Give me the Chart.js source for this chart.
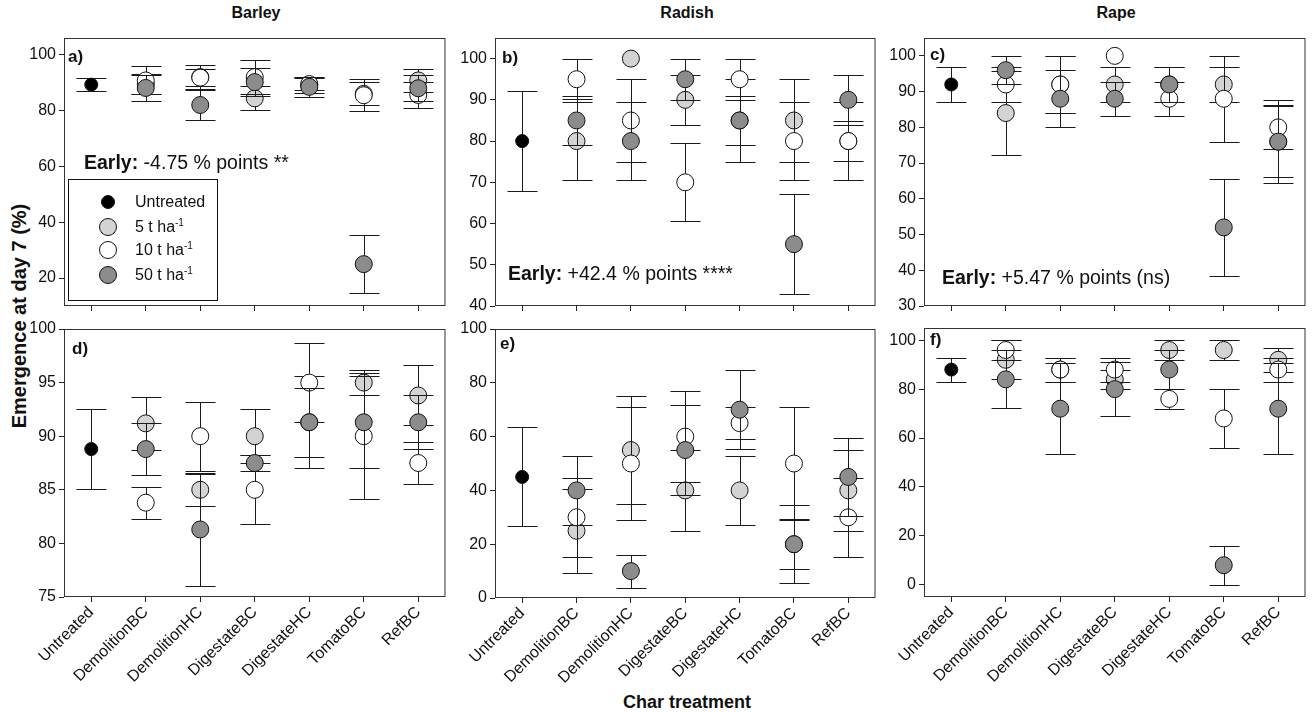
<!DOCTYPE html>
<html>
<head>
<meta charset="utf-8">
<script src="https://cdn.jsdelivr.net/npm/chart.js@4.4.1/dist/chart.umd.min.js"></script>
<style>
  body { margin: 0; width: 1312px; height: 712px; background: #fff; position: relative; overflow: hidden;
         font-family: 'Liberation Sans', Arial, sans-serif; color: #111; }
  canvas { position: absolute; }
  .txt { position: absolute; white-space: nowrap; line-height: 1; }
  .title { font-weight: bold; font-size: 16px; transform: translateX(-50%); top: 5px; }
  .letter { font-weight: bold; font-size: 17px; }
  .note { font-size: 19.5px; }
  .legend { position: absolute; border: 1px solid #111; background: #fff; box-sizing: border-box; }
  .legend .row { position: absolute; left: 0; height: 24px; display: flex; align-items: center; font-size: 16px; }
  .legend .dot { position: absolute; border-radius: 50%; border: 1px solid #111; box-sizing: border-box; }
  .legend .lab { position: absolute; left: 66px; }
  sup { font-size: 10px; vertical-align: 6px; line-height: 0; }
</style>
</head>
<body>

<div class="txt title" style="left:256px;">Barley</div>
<div class="txt title" style="left:687px;">Radish</div>
<div class="txt title" style="left:1116px;">Rape</div>

<div class="txt" style="left:19px;top:316px;font-weight:bold;font-size:20px;transform:translate(-50%,-50%) rotate(-90deg);">Emergence at day 7 (%)</div>
<div class="txt" style="left:687px;top:702px;font-weight:bold;font-size:18px;transform:translate(-50%,-50%);">Char treatment</div>

<script>
const treatments = ['Untreated', 'DemolitionBC', 'DemolitionHC', 'DigestateBC', 'DigestateHC', 'TomatoBC', 'RefBC'];

// untreated control, panels a-f
const untreatedMean = [89.3, 80, 92, 88.8, 45, 88];
const untreatedErr = [2.3, 12.2, 4.9, 3.7, 18.4, 4.9];

// a) barley, early
const barleyEarly5 = [null, 89.5, 92, 84.4, 89.2, 86, 90.8];
const barleyEarly5Err = [null, 3.5, 4.3, 4.3, 2.9, 4.1, 4.1];
const barleyEarly10 = [null, 90.8, 91.8, 92, 89.5, 85.5, 85.6];
const barleyEarly10Err = [null, 5, 3.1, 6, 2, 5.8, 4.8];
const barleyEarly50 = [null, 88.1, 82, 90.2, 88.5, 25, 88];
const barleyEarly50Err = [null, 4.8, 5.5, 5, 3.7, 10.3, 4.7];

// b) radish, early
const radishEarly5 = [null, 80, 100, 90, 85, 85, 80];
const radishEarly5Err = [null, 9.5, 0, 6.1, 10, 10, 4.9];
const radishEarly10 = [null, 95, 85, 70, 95, 80, 80];
const radishEarly10Err = [null, 4.9, 10, 9.5, 5, 9.4, 9.4];
const radishEarly50 = [null, 85, 80, 95, 85, 55, 90];
const radishEarly50Err = [null, 5.9, 9.4, 5, 6, 12.2, 6.1];

// c) rape, early
const rapeEarly5 = [null, 84, 92, 92, 92, 92, 76];
const rapeEarly5Err = [null, 11.7, 8, 4.9, 4.9, 4.9, 11.6];
const rapeEarly10 = [null, 92, 92, 100, 88, 88, 80];
const rapeEarly10Err = [null, 4.9, 8, 0, 4.8, 12, 6.2];
const rapeEarly50 = [null, 96, 88, 88, 92, 52, 76];
const rapeEarly50Err = [null, 4, 8, 4.8, 4.9, 13.6, 10];

// d) barley, late
const barleyLate5 = [null, 91.2, 85, 90, 91.3, 95, 93.8];
const barleyLate5Err = [null, 2.5, 1.5, 2.5, 4.3, 1.2, 2.8];
const barleyLate10 = [null, 83.8, 90, 85, 95, 90, 87.5];
const barleyLate10Err = [null, 1.5, 3.2, 3.2, 3.7, 5.9, 2];
const barleyLate50 = [null, 88.8, 81.3, 87.5, 91.3, 91.3, 91.3];
const barleyLate50Err = [null, 2.4, 5.3, 0.7, 3.2, 4.3, 2.5];

// e) radish, late
const radishLate5 = [null, 25, 55, 40, 40, 20, 40];
const radishLate5Err = [null, 15.6, 20, 15, 12.8, 14.6, 15];
const radishLate10 = [null, 30, 50, 60, 65, 50, 30];
const radishLate10Err = [null, 14.6, 20.9, 17, 6, 21, 14.6];
const radishLate50 = [null, 40, 10, 55, 70, 20, 45];
const radishLate50Err = [null, 12.8, 6.1, 16.7, 14.6, 9.3, 14.6];

// f) rape, late
const rapeLate5 = [null, 92, 88, 84, 96, 96, 92];
const rapeLate5Err = [null, 8, 4.9, 4, 4, 4, 4.9];
const rapeLate10 = [null, 96, 88, 88, 76, 68, 88];
const rapeLate10Err = [null, 4, 4.9, 4.9, 4, 12, 4.9];
const rapeLate50 = [null, 84, 72, 80, 88, 8, 72];
const rapeLate50Err = [null, 11.8, 18.7, 11, 8, 8, 18.7];

// y ranges and tick labels
const yRangeA = [10, 106], yTicksA = [20, 40, 60, 80, 100];
const yRangeB = [40, 105], yTicksB = [40, 50, 60, 70, 80, 90, 100];
const yRangeC = [30, 105], yTicksC = [30, 40, 50, 60, 70, 80, 90, 100];
const yRangeD = [75, 100], yTicksD = [75, 80, 85, 90, 95, 100];
const yRangeE = [0, 100], yTicksE = [0, 20, 40, 60, 80, 100];
const yRangeF = [-5, 105], yTicksF = [0, 20, 40, 60, 80, 100];

const notes = [
    { text: '-4.75 % points **', left: 84, top: 153 },
    { text: '+42.4 % points ****', left: 508, top: 263.5 },
    { text: '+5.47 % points (ns)', left: 942, top: 267.5 },
];

const LIGHT = '#d3d3d3';
const DARK = '#8c8c8c';
const YW = 46, PT = 12, PR = 6;

Chart.defaults.font.family = "'Liberation Sans', Arial, sans-serif";
Chart.defaults.font.size = 16;
Chart.defaults.color = '#111';

const errorBars = {
    id: 'errorBars',
    beforeDatasetDraw(chart, args) {
        const ds = chart.data.datasets[args.index];
        if (!ds.errors) return;
        const y = chart.scales.y;
        const ctx = chart.ctx;
        ctx.save();
        ctx.strokeStyle = '#1a1a1a';
        ctx.lineWidth = 1;
        args.meta.data.forEach((pt, i) => {
            const v = ds.data[i], e = ds.errors[i];
            if (v == null || !e) return;
            const x = Math.round(pt.x) + 0.5;
            const hi = Math.round(y.getPixelForValue(v + e)) + 0.5;
            const lo = Math.round(y.getPixelForValue(v - e)) + 0.5;
            ctx.beginPath();
            ctx.moveTo(x, hi); ctx.lineTo(x, lo);
            ctx.moveTo(x - 15, hi); ctx.lineTo(x + 15, hi);
            ctx.moveTo(x - 15, lo); ctx.lineTo(x + 15, lo);
            ctx.stroke();
        });
        ctx.restore();
    }
};

const boxBorder = {
    id: 'boxBorder',
    beforeDatasetsDraw(chart) {
        const { left, top, right, bottom } = chart.chartArea;
        const ctx = chart.ctx;
        ctx.save();
        ctx.strokeStyle = '#333';
        ctx.lineWidth = 1;
        ctx.strokeRect(left + 0.5, top + 0.5, right - left - 1, bottom - top - 1);
        ctx.restore();
    }
};

const buildPanel = (p) => {
    const [l, t, r, b] = p.area;
    const xh = p.bottom ? 110 : 14;
    const canvas = document.createElement('canvas');
    canvas.width = (r - l) + YW + PR;
    canvas.height = (b - t) + PT + xh;
    canvas.style.left = (l - YW) + 'px';
    canvas.style.top = (t - PT) + 'px';
    document.body.appendChild(canvas);

    const untreatedRow = treatments.map((_, i) => i === 0 ? untreatedMean[p.idx] : null);
    const untreatedRowErr = treatments.map((_, i) => i === 0 ? untreatedErr[p.idx] : null);

    const series = [
        { data: untreatedRow, errors: untreatedRowErr, fill: '#000', r: 6.5, order: 4 },
        { data: p.s5, errors: p.e5, fill: LIGHT, r: 8.5, order: 3 },
        { data: p.s10, errors: p.e10, fill: '#fff', r: 8.5, order: 2 },
        { data: p.s50, errors: p.e50, fill: DARK, r: 8.5, order: 1 },
    ];

    new Chart(canvas, {
        type: 'line',
        data: {
            labels: treatments,
            datasets: series.map(s => ({
                data: s.data,
                errors: s.errors,
                showLine: false,
                order: s.order,
                clip: false,
                pointRadius: s.r,
                pointHoverRadius: s.r,
                pointBackgroundColor: s.fill,
                pointBorderColor: '#111',
                pointBorderWidth: 1,
            }))
        },
        options: {
            responsive: false,
            animation: false,
            events: [],
            layout: { padding: { top: PT, right: PR, left: 0, bottom: 0 } },
            plugins: { legend: { display: false }, tooltip: { enabled: false } },
            scales: {
                x: {
                    type: 'category',
                    offset: true,
                    border: { display: false },
                    grid: { drawOnChartArea: false, drawTicks: true, tickLength: 5, offset: false, color: '#222' },
                    ticks: {
                        display: p.bottom,
                        autoSkip: false,
                        minRotation: 45,
                        maxRotation: 45,
                        padding: 1,
                        font: { size: 16 },
                    },
                    afterFit: (s) => {
                        s.height = xh;
                        s.paddingLeft = 0; s.paddingRight = 0;
                    }
                },
                y: {
                    type: 'linear',
                    min: p.range[0],
                    max: p.range[1],
                    border: { display: false },
                    grid: { drawOnChartArea: false, drawTicks: true, tickLength: 5, color: '#222' },
                    ticks: { padding: 3, font: { size: 16 } },
                    afterBuildTicks: (s) => {
                        s.ticks = p.ticks.map(v => ({ value: v }));
                    },
                    afterFit: (s) => {
                        s.width = YW;
                        s.paddingTop = 0; s.paddingBottom = 0;
                    }
                }
            }
        },
        plugins: [boxBorder, errorBars]
    });

    const letter = document.createElement('div');
    letter.className = 'txt letter';
    letter.style.left = p.letterPos[0] + 'px';
    letter.style.top = p.letterPos[1] + 'px';
    letter.textContent = p.letter;
    document.body.appendChild(letter);
};

const panels = [
    { idx: 0, letter: 'a)', area: [64, 38, 449, 306], bottom: false, range: yRangeA, ticks: yTicksA,
      s5: barleyEarly5, e5: barleyEarly5Err, s10: barleyEarly10, e10: barleyEarly10Err, s50: barleyEarly50, e50: barleyEarly50Err, letterPos: [68, 48] },
    { idx: 1, letter: 'b)', area: [495, 38, 879, 306], bottom: false, range: yRangeB, ticks: yTicksB,
      s5: radishEarly5, e5: radishEarly5Err, s10: radishEarly10, e10: radishEarly10Err, s50: radishEarly50, e50: radishEarly50Err, letterPos: [502, 49] },
    { idx: 2, letter: 'c)', area: [924, 38, 1309, 306], bottom: false, range: yRangeC, ticks: yTicksC,
      s5: rapeEarly5, e5: rapeEarly5Err, s10: rapeEarly10, e10: rapeEarly10Err, s50: rapeEarly50, e50: rapeEarly50Err, letterPos: [930, 46] },
    { idx: 3, letter: 'd)', area: [64, 329, 449, 597], bottom: true, range: yRangeD, ticks: yTicksD,
      s5: barleyLate5, e5: barleyLate5Err, s10: barleyLate10, e10: barleyLate10Err, s50: barleyLate50, e50: barleyLate50Err, letterPos: [72, 340] },
    { idx: 4, letter: 'e)', area: [495, 329, 879, 598], bottom: true, range: yRangeE, ticks: yTicksE,
      s5: radishLate5, e5: radishLate5Err, s10: radishLate10, e10: radishLate10Err, s50: radishLate50, e50: radishLate50Err, letterPos: [500, 335] },
    { idx: 5, letter: 'f)', area: [924, 328, 1309, 597], bottom: true, range: yRangeF, ticks: yTicksF,
      s5: rapeLate5, e5: rapeLate5Err, s10: rapeLate10, e10: rapeLate10Err, s50: rapeLate50, e50: rapeLate50Err, letterPos: [930, 331] },
];

panels.forEach(buildPanel);

notes.forEach(n => {
    const el = document.createElement('div');
    el.className = 'txt note';
    el.style.left = n.left + 'px';
    el.style.top = n.top + 'px';
    el.innerHTML = '<b>Early:</b> ' + n.text;
    document.body.appendChild(el);
});

// legend inside panel a
const legendItems = [
    { label: 'Untreated', fill: '#000', size: 14 },
    { label: '5 t ha<sup>-1</sup>', fill: LIGHT, size: 18 },
    { label: '10 t ha<sup>-1</sup>', fill: '#fff', size: 18 },
    { label: '50 t ha<sup>-1</sup>', fill: DARK, size: 18 },
];
const legendRows = [21.7, 46.7, 70, 95];
const legend = document.createElement('div');
legend.className = 'legend';
Object.assign(legend.style, { left: '68px', top: '179px', width: '150px', height: '122px' });
legendItems.forEach((it, i) => {
    const row = document.createElement('div');
    row.className = 'row';
    row.style.top = (legendRows[i] - 12) + 'px';
    row.style.width = '148px';
    row.innerHTML = `<span class="dot" style="left:${38.7 - it.size / 2}px;top:${12 - it.size / 2}px;width:${it.size}px;height:${it.size}px;background:${it.fill}"></span>` +
        `<span class="lab">${it.label}</span>`;
    legend.appendChild(row);
});
document.body.appendChild(legend);
</script>
</body>
</html>
